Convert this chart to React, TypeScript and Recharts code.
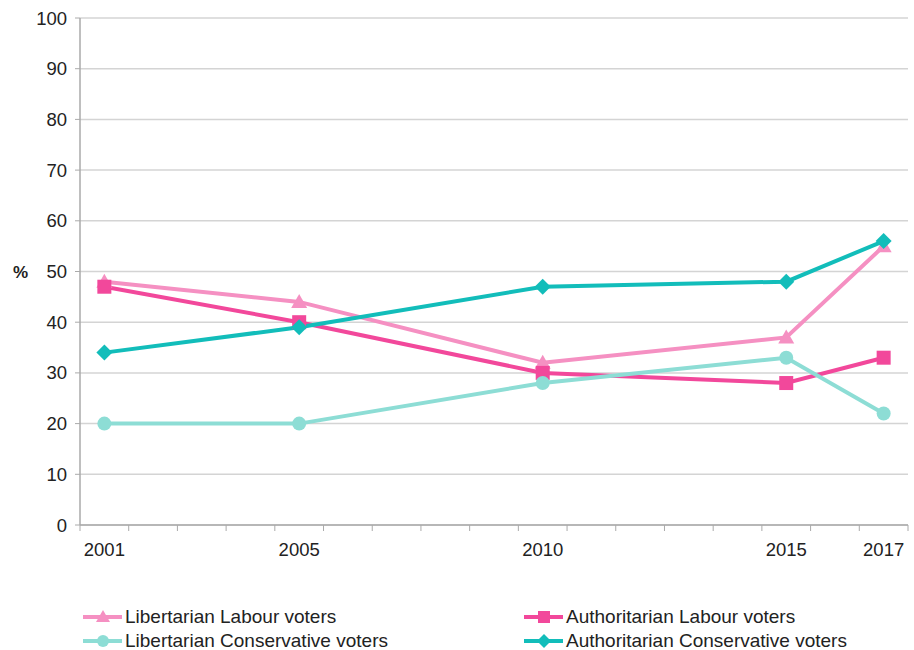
import { LineChart, Line, XAxis, YAxis, CartesianGrid } from 'recharts';

const years = [2001, 2005, 2010, 2015, 2017];
const libertarianLabour = [48, 44, 32, 37, 55];
const authoritarianLabour = [47, 40, 30, 28, 33];
const libertarianConservative = [20, 20, 28, 33, 22];
const authoritarianConservative = [34, 39, 47, 48, 56];
const yTicks = [0, 10, 20, 30, 40, 50, 60, 70, 80, 90, 100];
const minorTicks = Array.from({ length: 18 }, (_, i) => 2000.5 + i);

const data = years.map((year, i) => ({
  year,
  libLab: libertarianLabour[i],
  authLab: authoritarianLabour[i],
  libCon: libertarianConservative[i],
  authCon: authoritarianConservative[i],
}));

const series = [
  { key: 'libLab', name: 'Libertarian Labour voters', color: '#F590C2', shape: 'triangle' },
  { key: 'authLab', name: 'Authoritarian Labour voters', color: '#F2489B', shape: 'square' },
  { key: 'libCon', name: 'Libertarian Conservative voters', color: '#8DDDD5', shape: 'circle' },
  { key: 'authCon', name: 'Authoritarian Conservative voters', color: '#12BDBA', shape: 'diamond' },
];

const font = '"Liberation Sans", Arial, sans-serif';

function Marker({ cx, cy, shape, color, s = 7 }: any) {
  if (cx == null || cy == null) return null;
  if (shape === 'triangle')
    return <polygon points={`${cx},${cy - s - 1} ${cx + s + 1},${cy + s - 1} ${cx - s - 1},${cy + s - 1}`} fill={color} />;
  if (shape === 'square')
    return <rect x={cx - s} y={cy - s} width={s * 2} height={s * 2} fill={color} />;
  if (shape === 'circle') return <circle cx={cx} cy={cy} r={s} fill={color} />;
  const d = s + 1;
  return <polygon points={`${cx},${cy - d} ${cx + d},${cy} ${cx},${cy + d} ${cx - d},${cy}`} fill={color} />;
}

function XTick({ x, y, payload }: any) {
  const v = payload.value;
  if (years.includes(v)) {
    return (
      <text x={x} y={y + 23} textAnchor="middle" fontSize={18.5} fill="#222" fontFamily={font}>
        {v}
      </text>
    );
  }
  return <line x1={x} x2={x} y1={y - 8} y2={y - 2} stroke="#aaa" strokeWidth={1} />;
}

function LegendBox() {
  return (
    <div
      style={{
        position: 'absolute',
        left: 82,
        top: 606,
        display: 'grid',
        gridTemplateColumns: '441px 380px',
        rowGap: 3,
        fontFamily: font,
        fontSize: 19,
        color: '#222',
      }}
    >
      {series.map((s) => (
        <div key={s.key} style={{ display: 'flex', alignItems: 'center', height: 21 }}>
          <svg width={41} height={20}>
            <line x1={1} x2={40} y1={10} y2={10} stroke={s.color} strokeWidth={4} />
            <Marker cx={21} cy={10} shape={s.shape} color={s.color} s={6} />
          </svg>
          <span style={{ marginLeft: 2 }}>{s.name}</span>
        </div>
      ))}
    </div>
  );
}

export default function App() {
  return (
    <div style={{ position: 'absolute', left: 0, top: 0, width: 914, height: 650, background: '#fff' }}>
      <LineChart width={914} height={650} data={data} margin={{ top: 18, right: 6, left: 0, bottom: 85 }}>
        <CartesianGrid vertical={false} stroke="#d4d4d4" strokeWidth={1.5} />
        <XAxis
          dataKey="year"
          type="number"
          domain={[2000.5, 2017.5]}
          ticks={[...minorTicks, ...years].sort((a, b) => a - b)}
          interval={0}
          tick={<XTick />}
          tickLine={false}
          axisLine={{ stroke: '#aaa', strokeWidth: 1.5 }}
          height={40}
        />
        <YAxis
          domain={[0, 100]}
          ticks={yTicks}
          interval={0}
          width={80}
          tickSize={5}
          tickMargin={8}
          tickLine={{ stroke: '#aaa' }}
          axisLine={{ stroke: '#aaa', strokeWidth: 1.5 }}
          tick={{ fontSize: 18.5, fill: '#222', fontFamily: font }}
          label={{ value: '%', position: 'insideLeft', offset: 13, style: { fontSize: 17, fontWeight: 'bold', fill: '#222', fontFamily: font } }}
        />
        {series.map((s) => (
          <Line
            key={s.key}
            dataKey={s.key}
            name={s.name}
            stroke={s.color}
            strokeWidth={4}
            isAnimationActive={false}
            dot={(p: any) => <Marker key={`${s.key}-${p.index}`} cx={p.cx} cy={p.cy} shape={s.shape} color={s.color} />}
            activeDot={false}
          />
        ))}
      </LineChart>
      <LegendBox />
    </div>
  );
}
